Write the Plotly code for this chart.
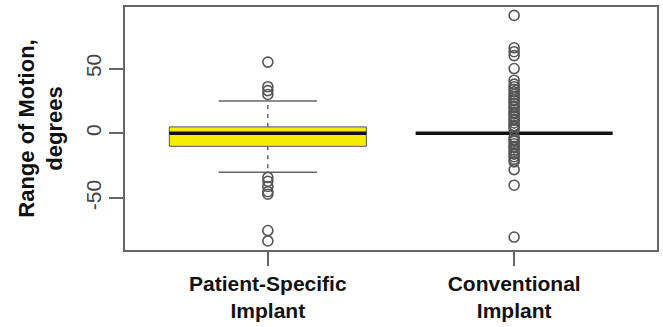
import plotly.graph_objects as go

# ---- data ----
groups = ["Patient-Specific<br>Implant", "Conventional<br>Implant"]
q1 = [-10, 0]
median = [0, 0]
q3 = [5, 0]
lower_whisker = [-30, 0]
upper_whisker = [25, 0]
outliers_psi = [55, 36, 33, 30, -34, -37, -41, -45, -47, -75, -83]
outliers_conv = [91, 66, 63, 60, 50, 41, 38, 36, 34, 32, 30, 28, 26, 25, 23, 21, 20,
                 18, 16, 15, 13, 11, 10, 8, 6, 5, 3,
                 -3, -5, -6, -8, -10, -11, -13, -15, -16, -18, -20, -22, -28, -40, -80]
outliers = [outliers_psi, outliers_conv]
y_ticks = [-50, 0, 50]

box_colors = ["#f3ee00", "#ffffff"]
BOX_HALF = 0.4
CAP_HALF = 0.2
FONT = "Liberation Sans, Arial, Helvetica, sans-serif"

fig = go.Figure()
for i, g in enumerate(groups):
    x = i + 1
    # box body
    if q3[i] > q1[i]:
        fig.add_trace(go.Scatter(
            x=[x - BOX_HALF, x + BOX_HALF, x + BOX_HALF, x - BOX_HALF, x - BOX_HALF],
            y=[q1[i], q1[i], q3[i], q3[i], q1[i]],
            mode="lines", fill="toself", fillcolor=box_colors[i],
            line=dict(color="#555555", width=1), hoverinfo="skip", showlegend=False))
        # dashed whiskers
        fig.add_trace(go.Scatter(
            x=[x, x, None, x, x], y=[q3[i], upper_whisker[i], None, q1[i], lower_whisker[i]],
            mode="lines", line=dict(color="#666666", width=1.5, dash="4px,5px"),
            hoverinfo="skip", showlegend=False))
        # caps
        fig.add_trace(go.Scatter(
            x=[x - CAP_HALF, x + CAP_HALF, None, x - CAP_HALF, x + CAP_HALF],
            y=[upper_whisker[i], upper_whisker[i], None, lower_whisker[i], lower_whisker[i]],
            mode="lines", line=dict(color="#666666", width=1.5),
            hoverinfo="skip", showlegend=False))
    # median
    fig.add_trace(go.Scatter(
        x=[x - BOX_HALF, x + BOX_HALF], y=[median[i], median[i]],
        mode="lines", line=dict(color="#111111", width=3.5),
        hoverinfo="skip", showlegend=False))
    # outliers
    fig.add_trace(go.Scatter(
        x=[x] * len(outliers[i]), y=outliers[i], mode="markers",
        marker=dict(symbol="circle-open", size=10, color="#555555",
                    line=dict(width=1.6, color="#555555")),
        showlegend=False, name=g.replace("<br>", " ")))

fig.update_layout(
    width=663, height=327,
    margin=dict(l=125, r=6, t=7, b=77),
    plot_bgcolor="white", paper_bgcolor="white",
    font=dict(family=FONT),
)
fig.update_xaxes(
    range=[0.42, 2.58], tickvals=[1, 2], ticktext=groups,
    showgrid=False, zeroline=False, automargin=False,
    showline=True, mirror=True, linecolor="#666666", linewidth=1.5,
    ticks="outside", ticklen=14, tickwidth=1.5, tickcolor="#666666",
    tickfont=dict(size=21, color="#111111", weight="bold", family=FONT),
)
fig.update_yaxes(
    range=[-90, 97.5], tickvals=y_ticks, ticktext=[str(v) for v in y_ticks],
    showgrid=False, zeroline=False, automargin=False,
    showline=True, mirror=True, linecolor="#666666", linewidth=1.5,
    ticks="outside", ticklen=14, tickwidth=1.5, tickcolor="#666666",
    tickangle=-90,
    tickfont=dict(size=21, color="#444444", family=FONT),
    title=dict(text="Range of Motion,<br>degrees",
               font=dict(size=22, color="#111111", weight="bold", family=FONT),
               standoff=13),
)
fig.write_html("out.html", config={"displayModeBar": False},
               post_script="document.body.style.margin='0';document.body.style.overflow='hidden';")
